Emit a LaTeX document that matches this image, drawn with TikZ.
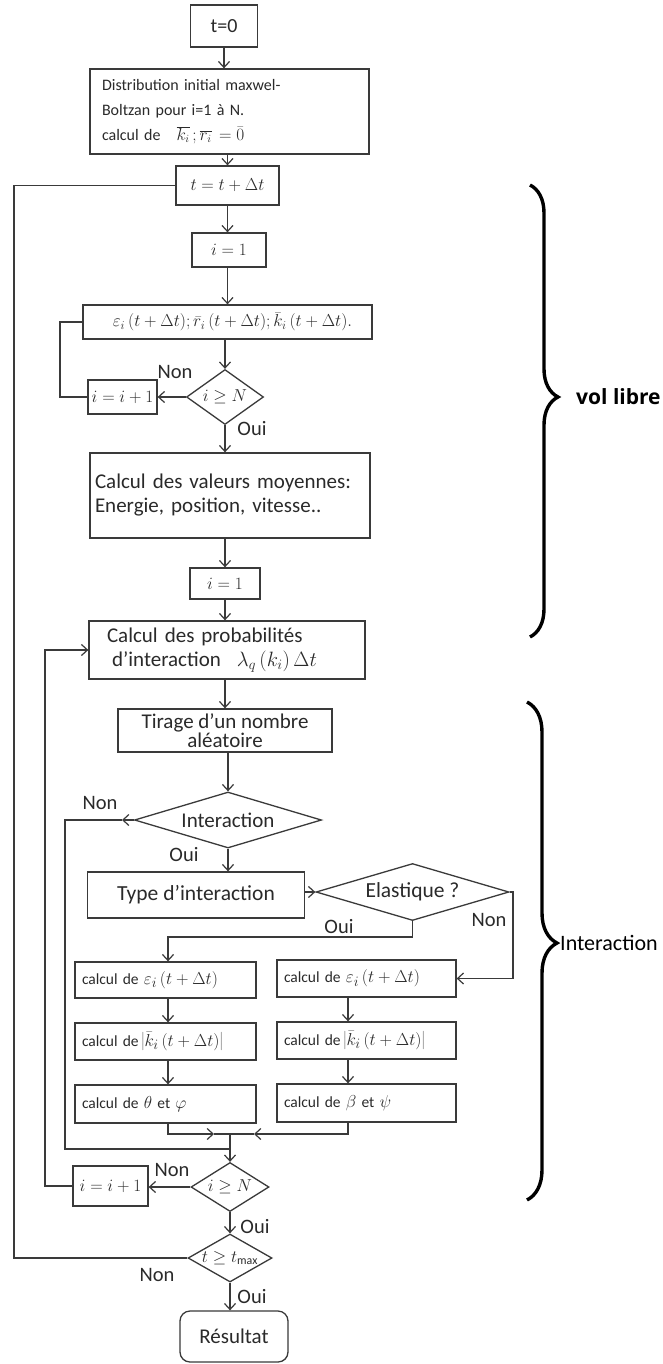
\documentclass[tikz,border=0pt]{standalone}
\usepackage{fontspec}
\setmainfont{Carlito}
\newfontfamily\volfont{Open Sans}
\usetikzlibrary{shapes.geometric,arrows.meta,decorations.pathreplacing}
\definecolor{lc}{HTML}{3A3A3A}
\definecolor{tc}{HTML}{2A2A2A}
\newcommand{\fsz}[2]{\fontsize{#1}{#2}\selectfont}
\newcommand{\bm}[1]{{\fsz{19}{20}$#1$}}
\begin{document}
\begin{tikzpicture}[x=1pt,y=1pt,
  box/.style={draw=lc, line width=1.3pt, rectangle, inner sep=0pt, text=tc},
  dia/.style={draw=lc, line width=1.3pt, diamond, inner sep=0pt, text=tc},
  arr/.style={draw=lc, line width=1.3pt, -{Straight Barb[length=6pt,width=11pt,line width=1.2pt]}},
  ln/.style={draw=lc, line width=1.3pt},
  lab/.style={text=tc, inner sep=0pt, font=\fsz{20.5}{24}},
  lbox/.style={box, minimum width=181pt, text width=167pt, align=left, font=\fsz{15.5}{20}},
  rbox/.style={box, minimum width=179pt, text width=165pt, align=left, font=\fsz{15.5}{20}},
  brc/.style={decorate, line width=3.4pt, draw=black},
]
\useasboundingbox (0,0) rectangle (663,-1364);
\fill[white] (0,0) rectangle (663,-1364);

% main column
\node[box, minimum width=67pt, minimum height=42pt, font=\fsz{20}{24}] (t0) at (224,-26) {t=0};
\node[box, minimum width=279pt, minimum height=85pt, text width=255pt, align=left, font=\fsz{16}{25}] (dist) at (229.5,-111.5)
  {Distribution initial maxwel-\\Boltzan pour i=1 à N.\\calcul de\hspace{16pt}{\fsz{16}{25}$\overline{k_i}\,;\overline{r_i}\,=\bar{0}$}};
\node[box, minimum width=103pt, minimum height=39pt, font=\fsz{17}{20}] (tdt) at (227.5,-185.5) {$t=t+\Delta t$};
\node[box, minimum width=74pt, minimum height=34pt, font=\fsz{17}{20}] (i1) at (229,-250) {$i=1$};
\node[box, minimum width=289pt, minimum height=34pt, font=\fsz{17.5}{20}] (eps) at (227.5,-322)
  {\hspace{10pt}$\varepsilon_i\,(t+\Delta t);\bar{r}_i\,(t+\Delta t);\bar{k}_i\,(t+\Delta t).$};
\node[dia, aspect=1.4, minimum width=77pt, minimum height=55pt, font=\fsz{17}{20}] (d1) at (225,-397) {$i\geq N$};
\node[box, minimum width=69pt, minimum height=34pt, font=\fsz{17}{20}] (ip1) at (122.5,-397) {$i=i+1$};
\node[box, minimum width=280pt, minimum height=85pt, text width=270pt, align=left, font=\fsz{21}{24}] (moy) at (230,-495.5)
  {Calcul des valeurs moyennes:\\Energie, position, vitesse..};
\node[box, minimum width=70pt, minimum height=31pt, font=\fsz{17}{20}] (i1b) at (225,-583.5) {$i=1$};
\node[box, minimum width=276pt, minimum height=58pt, text width=240pt, align=left, font=\fsz{21}{24}] (prob) at (227,-650)
  {Calcul des probabilités\\\hspace{5pt}d'interaction\hspace{16pt}$\lambda_q\left(k_i\right)\Delta t$};
\node[box, minimum width=214pt, minimum height=43pt, align=center, font=\fsz{21}{18.5}] (tir) at (225,-730.5) {Tirage d'un nombre\\aléatoire};
\node[dia, aspect=3.34, minimum width=187pt, minimum height=56pt, font=\fsz{21}{24}] (inter) at (228,-820) {Interaction};
\node[box, minimum width=217pt, minimum height=46pt, font=\fsz{21.5}{24}] (type) at (196,-895) {Type d'interaction};
\node[dia, aspect=3.39, minimum width=193pt, minimum height=57pt, font=\fsz{21.5}{24}] (elas) at (412.5,-892) {Elastique ?};

\node[lbox, minimum height=36pt] (L1) at (165.5,-980) {calcul de \bm{\varepsilon_i\,(t+\Delta t)}};
\node[lbox, minimum height=37pt] (L2) at (165.5,-1041.5) {calcul de\,\bm{\left|\bar{k}_i\,(t+\Delta t)\right|}};
\node[lbox, minimum height=38pt] (L3) at (165.5,-1104) {calcul de \bm{\theta} et \bm{\varphi}};
\node[rbox, minimum height=37pt] (R1) at (366.5,-978.5) {calcul de \bm{\varepsilon_i\,(t+\Delta t)}};
\node[rbox, minimum height=37pt] (R2) at (366.5,-1040.5) {calcul de\,\bm{\left|\bar{k}_i\,(t+\Delta t)\right|}};
\node[rbox, minimum height=38pt] (R3) at (366.5,-1103) {calcul de \bm{\beta} et \bm{\psi}};

\node[dia, aspect=1.6, minimum width=78pt, minimum height=49pt, font=\fsz{17}{20}] (d2) at (230,-1187) {$i\geq N$};
\node[box, minimum width=75pt, minimum height=40pt, font=\fsz{17}{20}] (ip2) at (110.5,-1186) {$i=i+1$};
\node[dia, aspect=1.75, minimum width=84pt, minimum height=48pt, font=\fsz{17}{20}] (d3) at (230,-1258) {$t\geq t_{\max}$};
\node[box, rounded corners=10pt, minimum width=108pt, minimum height=51pt, font=\fsz{21}{24}] (res) at (234,-1336.5) {Résultat};

% labels
\node[lab] (n1) at (175,-372) {Non};
\node[lab] (o1) at (252,-429) {Oui};
\node[lab] (n2) at (100,-803) {Non};
\node[lab] (o2) at (184,-855) {Oui};
\node[lab] (o3) at (339,-927) {Oui};
\node[lab] (n3) at (489,-920) {Non};
\node[lab] (n4) at (172,-1170) {Non};
\node[lab] (o4) at (255,-1227) {Oui};
\node[lab] (n5) at (157,-1275) {Non};
\node[lab] (o5) at (252,-1297) {Oui};

% connectors
\draw[arr] (t0.south) -- (t0.south |- dist.north);
\draw[arr] (tdt.north |- dist.south) -- (tdt.north);
\draw[arr] (tdt.south) -- (tdt.south |- i1.north);
\draw[arr] (tdt.south |- i1.south) -- (tdt.south |- eps.north);
\draw[arr] (d1.north |- eps.south) -- (d1.north);
\draw[arr] (d1.west) -- (ip1.east);
\coordinate (c1) at (60,-397);
\draw[ln] (ip1.west) -- (c1) |- (eps.west);
\draw[arr] (d1.south) -- (d1.south |- moy.north);
\draw[arr] (d1.south |- moy.south) -- (d1.south |- i1b.north);
\draw[arr] (i1b.south) -- (i1b.south |- prob.north);
\draw[arr] (i1b.south |- prob.south) -- (i1b.south |- tir.north);
\draw[arr] (inter.north |- tir.south) -- (inter.north);
\draw[arr] (inter.south) -- (inter.south |- type.north);
\coordinate (nA) at (122,-820);
\coordinate (nB) at (65,-820);
\coordinate (nC) at (65,-1149);
\coordinate (nD) at (230,-1149);
\draw[arr] (inter.west) -- (nA);
\draw[ln] (nA) -- (nB) -- (nC) -- (nD);
\draw[arr] (type.east |- elas.west) -- (elas.west);
\coordinate (eN) at (513,-892);
\draw[arr] (elas.east) -- (eN) |- (R1.east);
\coordinate (eO) at (412.5,-937);
\coordinate (eL) at (168,-937);
\draw[arr] (elas.south) -- (eO) -- (eL) -- (eL |- L1.north);
\draw[arr] ([xshift=2.5pt]L1.south) -- ([xshift=2.5pt]L2.north);
\draw[arr] ([xshift=2.5pt]L2.south) -- ([xshift=2.5pt]L3.north);
\draw[arr] ([xshift=-18.5pt]R1.south) -- ([xshift=-18.5pt]R2.north);
\draw[arr] ([xshift=-18.5pt]R2.south) -- ([xshift=-18.5pt]R3.north);
\coordinate (jn) at (230,-1134);
\coordinate (mL) at (214,-1134);
\coordinate (mR) at (254,-1134);
\draw[arr] ([xshift=2.5pt]L3.south) |- (mL);
\draw[ln] (mL) -- (jn);
\draw[arr] ([xshift=-18.5pt]R3.south) |- (mR);
\draw[ln] (mR) -- (jn);
\draw[arr] (jn) -- (d2.north);
\draw[arr] (d2.west) -- (d2.west -| ip2.east);
\coordinate (pA) at (45,-1186);
\draw[arr] (ip2.west) -- (pA) |- (prob.west);
\draw[arr] (d2.south) -- (d3.north);
\coordinate (oA) at (14,-1258);
\draw[ln] (d3.west) -- (oA) |- (tdt.west);
\draw[arr] (d3.south) -- (d3.south |- res.north);

% braces
\coordinate (b1a) at (530,-185);
\coordinate (b1b) at (530,-637);
\draw[brc, decoration={brace, amplitude=28pt, aspect=0.469}] (b1a) -- (b1b);
\node[anchor=west, inner sep=0pt, font={\volfont\bfseries\fsz{21}{24}}] (vl) at (576,-397) {vol libre};
\coordinate (b2a) at (527,-702);
\coordinate (b2b) at (527,-1200);
\draw[brc, decoration={brace, amplitude=30pt, aspect=0.484}] (b2a) -- (b2b);
\node[anchor=west, inner sep=0pt, font=\fsz{22}{24}] (il) at (560,-943) {Interaction};
\end{tikzpicture}
\end{document}
